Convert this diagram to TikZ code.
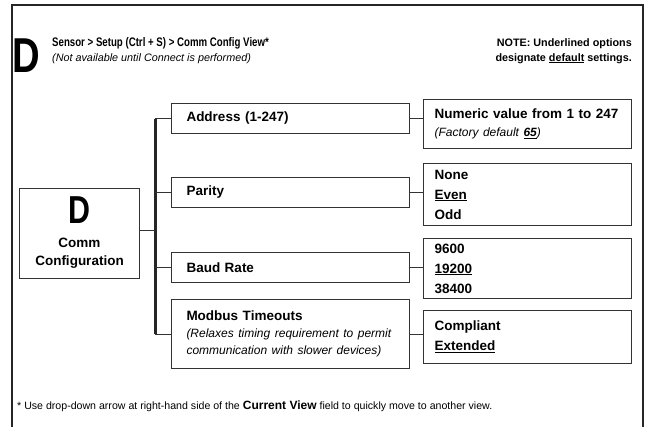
\documentclass[tikz,border=0pt]{standalone}
\usepackage{fontspec}
\setmainfont{Liberation Sans}
\newfontfamily\narrowfont{Liberation Sans}[FakeStretch=0.78]
\usepackage{tikz}
\usetikzlibrary{positioning}

\begin{document}
\begin{tikzpicture}[x=1bp, y=-1bp,
        every node/.style={font=\fontsize{13.5bp}{20bp}\selectfont\bfseries, text=black},
        midbox/.style={draw=black!80, line width=1bp, anchor=north west, text width=208bp, inner xsep=15bp, align=left},
        valbox/.style={draw=black!80, line width=1bp, anchor=north west, text width=186bp, inner xsep=11bp, align=left},
        small/.style={font=\fontsize{10.8bp}{14bp}\selectfont, inner sep=0pt},
        wire/.style={draw=black!80, line width=1bp}]
        \useasboundingbox (0,0) rectangle (646,427);
        \def\note#1{{\fontsize{12bp}{16bp}\selectfont\mdseries\itshape\hyphenpenalty=10000 #1}}

        % frame
        \draw[line width=2.2bp, black!85] (12,427) -- (12,5) -- (643,5) -- (643,427);

        % header
        \node[inner sep=0pt, anchor=base west, font=\fontsize{49bp}{49bp}\narrowfont\bfseries] (bigd) at (12,72) {D};
        \node[small, anchor=base west, font=\fontsize{12.4bp}{14bp}\narrowfont\bfseries] (path) at (52,46) {Sensor > Setup (Ctrl + S) > Comm Config View*};
        \node[small, anchor=base west, font=\fontsize{10.8bp}{14bp}\selectfont\itshape] (avail) at (52,61) {(Not available until Connect is performed)};
        \node[small, anchor=base east, font=\fontsize{10.8bp}{14bp}\selectfont\bfseries] (note1) at (632,46) {NOTE: Underlined options};
        \node[small, anchor=base east, font=\fontsize{10.8bp}{14bp}\selectfont\bfseries] (note2) at (632,61) {designate \underline{default} settings.};

        % view box
        \node[draw=black!80, line width=1bp, minimum width=119bp, minimum height=90bp, align=center,
              font=\fontsize{13.5bp}{18bp}\selectfont\bfseries] (view) at (79.5,233)
              {{\fontsize{39bp}{39bp}\narrowfont\bfseries D}\\[6bp]Comm\\Configuration};

        % options
        \node[midbox, minimum height=30bp] (addr) at (171,103) {Address (1-247)};
        \node[midbox, minimum height=30bp] (parity) at (171,177) {Parity};
        \node[midbox, minimum height=30bp] (baud) at (171,252) {Baud Rate};
        \node[midbox, minimum height=69bp] (modbus) at (171,299)
              {Modbus Timeouts\\[-3bp]\note{(Relaxes timing requirement to permit}\\[-3bp]\note{communication with slower devices)}};

        % values
        \node[valbox, minimum height=49bp] (addrval) at (423,99)
              {Numeric value from 1 to 247\\[-2bp]\note{(Factory default \underline{\bfseries 65})}};
        \node[valbox, minimum height=62bp] (parityval) at (423,163) {None\\\underline{Even}\\Odd};
        \node[valbox, minimum height=60bp] (baudval) at (423,238) {9600\\\underline{19200}\\38400};
        \node[valbox, minimum height=53bp] (modbusval) at (423,310) {Compliant\\\underline{Extended}};

        % connectors
        \coordinate (busx) at (155,0);
        \draw[line width=3bp, black!85] (addr.west -| busx) -- (modbus.west -| busx);
        \draw[wire] (view.east |- 0,230) -- (busx |- 0,230);
        \foreach \opt in {addr, parity, baud, modbus}
            \draw[wire] (\opt.west -| busx) -- (\opt.west);
        \foreach \opt in {addr, parity, baud, modbus}
            \draw[wire] (\opt.east) -- (\opt.east -| \opt val.west);

        % footer
        \node[small, anchor=base west, font=\fontsize{10.6bp}{14bp}\selectfont] (foot) at (17,409)
              {* Use drop-down arrow at right-hand side of the {\fontsize{12bp}{14bp}\selectfont\bfseries Current View} field to quickly move to another view.};
    \end{tikzpicture}
\end{document}
